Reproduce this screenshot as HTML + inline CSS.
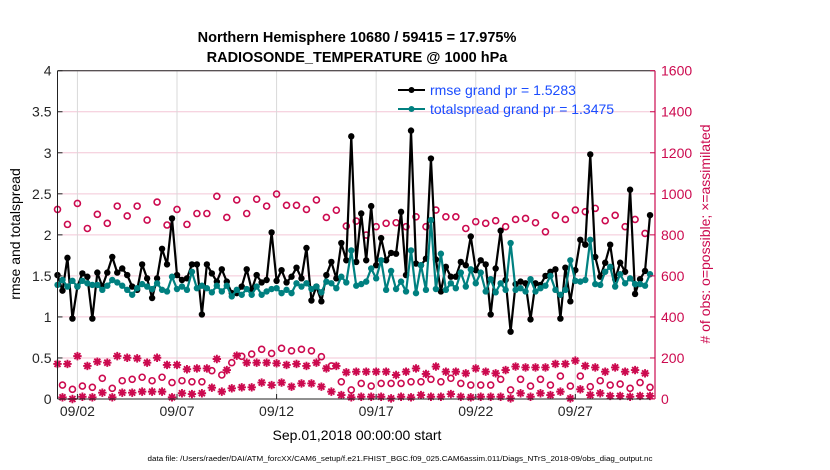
<!DOCTYPE html>
<html><head><meta charset="utf-8"><style>
body{margin:0;background:#fff;}
svg{display:block;font-family:"Liberation Sans",Arial,sans-serif;}
</style></head><body>
<svg id="chart" width="830" height="470" viewBox="0 0 830 470" xmlns="http://www.w3.org/2000/svg">
<rect width="830" height="470" fill="#fff"/>
<text x="357" y="42" text-anchor="middle" font-size="14.5" font-weight="bold">Northern Hemisphere 10680 / 59415 = 17.975%</text>
<text x="357" y="62" text-anchor="middle" font-size="14.5" font-weight="bold">RADIOSONDE_TEMPERATURE @ 1000 hPa</text>
<g id="grid"></g>
<g id="series"></g>
<g id="axes"></g>
<text transform="translate(20,234) rotate(-90)" text-anchor="middle" font-size="14">rmse and totalspread</text>
<text transform="translate(710,234) rotate(-90)" text-anchor="middle" font-size="14" fill="#cc0a4f"># of obs: o=possible; ×=assimilated</text>
<text x="357" y="440" text-anchor="middle" font-size="14">Sep.01,2018 00:00:00 start</text>
<text x="400" y="461" text-anchor="middle" font-size="7" textLength="505" lengthAdjust="spacingAndGlyphs">data file: /Users/raeder/DAI/ATM_forcXX/CAM6_setup/f.e21.FHIST_BGC.f09_025.CAM6assim.011/Diags_NTrS_2018-09/obs_diag_output.nc</text>
<g>
<line x1="398" y1="90" x2="425" y2="90" stroke="#000" stroke-width="2"/><circle cx="411.5" cy="90" r="3" fill="#000"/>
<text x="430" y="95" font-size="14" fill="#1a4cff">rmse grand pr = 1.5283</text>
<line x1="398" y1="109" x2="425" y2="109" stroke="#008080" stroke-width="2"/><circle cx="411.5" cy="109" r="3" fill="#008080"/>
<text x="430" y="114" font-size="14" fill="#1a4cff">totalspread grand pr = 1.3475</text>
</g>
</svg>
<script>
const rmse=[1.51,1.32,1.72,0.98,1.37,1.53,1.49,0.98,1.54,1.37,1.54,1.73,1.54,1.59,1.51,1.37,1.33,1.64,1.47,1.23,1.47,1.83,1.64,2.20,1.51,1.45,1.47,1.64,1.64,1.03,1.64,1.53,1.43,1.58,1.43,1.29,1.29,1.37,1.58,1.33,1.51,1.42,1.45,2.03,1.44,1.57,1.42,1.49,1.60,1.47,1.84,1.20,1.37,1.19,1.51,1.67,1.47,1.90,1.69,3.20,1.67,2.26,1.69,2.35,1.63,1.96,1.69,1.78,1.77,2.28,1.51,3.27,1.65,1.63,1.71,2.93,1.70,1.31,1.61,1.49,1.49,1.67,1.63,1.98,1.57,1.69,1.64,1.03,1.59,2.05,1.45,0.82,1.40,1.43,1.41,0.97,1.41,1.39,1.50,1.55,1.58,0.98,1.60,1.19,1.57,1.94,1.88,2.98,1.73,1.49,1.66,1.88,1.46,1.66,1.55,2.55,1.28,1.46,1.56,2.24];
const spread=[1.39,1.45,1.37,1.44,1.37,1.44,1.41,1.39,1.39,1.33,1.38,1.45,1.42,1.38,1.33,1.27,1.35,1.40,1.37,1.34,1.41,1.33,1.31,1.49,1.34,1.37,1.33,1.55,1.35,1.38,1.35,1.30,1.38,1.31,1.38,1.25,1.33,1.27,1.34,1.27,1.37,1.27,1.31,1.34,1.35,1.29,1.33,1.29,1.41,1.37,1.41,1.34,1.37,1.30,1.43,1.41,1.35,1.49,1.42,1.81,1.38,1.40,1.43,1.59,1.47,1.69,1.33,1.56,1.34,1.43,1.31,1.81,1.29,1.63,1.33,2.18,1.34,1.77,1.33,1.41,1.35,1.54,1.37,1.58,1.41,1.54,1.31,1.46,1.30,1.41,1.33,1.90,1.33,1.35,1.31,1.46,1.31,1.35,1.38,1.50,1.33,1.27,1.33,1.69,1.44,1.43,1.45,1.94,1.40,1.39,1.55,1.61,1.37,1.52,1.41,1.47,1.40,1.40,1.38,1.52];
const possibleHigh=[924,851,953,831,900,856,940,892,940,872,960,848,924,851,904,904,988,885,970,904,974,940,999,944,944,924,970,885,920,843,867,799,840,856,859,840,888,840,921,888,888,831,864,856,869,840,875,880,859,815,895,875,921,913,929,869,895,840,875,807];
const possibleLow=[68,47,63,57,101,52,89,96,106,89,106,80,89,84,84,138,117,177,208,219,242,222,247,235,242,235,206,161,84,44,76,63,76,76,76,84,84,96,84,101,76,68,68,68,96,44,96,63,96,68,112,63,112,60,89,68,73,52,80,57];
const assimHigh=[171,171,209,161,182,177,209,201,198,177,201,166,166,145,149,149,195,141,211,177,177,177,174,166,171,161,177,149,161,130,133,133,133,133,117,133,149,122,158,133,133,125,149,133,125,141,158,154,154,154,171,171,187,161,154,133,154,133,141,125];
const assimLow=[8,0,11,8,31,8,31,31,36,36,36,8,28,24,28,55,36,52,57,57,80,68,80,60,76,76,60,36,19,8,11,11,11,3,11,8,19,11,11,24,11,8,11,11,11,3,28,11,28,19,36,3,47,19,28,15,15,11,15,15];
const leftTicks=[0,0.5,1,1.5,2,2.5,3,3.5,4];
const leftTickLabels=["0","0.5","1","1.5","2","2.5","3","3.5","4"];
const rightTicks=[0,200,400,600,800,1000,1200,1400,1600];
const dateTicks=[1,6,11,16,21,26];
const dateTickLabels=["09/02","09/07","09/12","09/17","09/22","09/27"];

const NS='http://www.w3.org/2000/svg';
const L=57.5,R=655,T=70.7,B=399,DAYS=30;
const xDay=d=>L+d*(R-L)/DAYS;
const xIdx=k=>xDay(k/4);
const yL=v=>B-v*(B-T)/4;
const yR=n=>B-n*(B-T)/1600;
const CR='#cc0a4f';
function mk(tag,attrs,parent){const e=document.createElementNS(NS,tag);for(const k in attrs)e.setAttribute(k,attrs[k]);parent.appendChild(e);return e;}
const grid=document.getElementById('grid'),ser=document.getElementById('series'),ax=document.getElementById('axes');

rightTicks.forEach(n=>{const l=mk('line',{x1:L,x2:R,y1:yR(n),y2:yR(n),stroke:'#f3c6d6','stroke-width':1},grid);

});
dateTicks.forEach(d=>{const l=mk('line',{x1:xDay(d),x2:xDay(d),y1:T,y2:B,stroke:'#d9d9d9','stroke-width':1},grid);

});

function star(x,y,g){const s=4.2,d=3.0;
const p=mk('path',{d:`M${x-s},${y}H${x+s}M${x},${y-s}V${y+s}M${x-d},${y-d}L${x+d},${y+d}M${x-d},${y+d}L${x+d},${y-d}`,stroke:CR,'stroke-width':1.9,fill:'none'},g);

}
function circ(x,y,g){const c=mk('circle',{cx:x,cy:y,r:3.0,fill:'none',stroke:CR,'stroke-width':1.6},g);

}

const gObs=mk('g',{},ser);


possibleHigh.forEach((n,i)=>circ(xIdx(2*i),yR(n),gObs));
possibleLow.forEach((n,i)=>circ(xIdx(2*i+1),yR(n),gObs));
assimHigh.forEach((n,i)=>star(xIdx(2*i),yR(n),gObs));
assimLow.forEach((n,i)=>star(xIdx(2*i+1),yR(n),gObs));

function line(vals,color,name){const g=mk('g',{},ser);


const p=mk('polyline',{points:vals.map((v,k)=>xIdx(k)+','+yL(v)).join(' '),fill:'none',stroke:color,'stroke-width':2.2,'stroke-linejoin':'round'},g);


vals.forEach((v,k)=>{const c=mk('circle',{cx:xIdx(k),cy:yL(v),r:3.2,fill:color},g);

});}
line(rmse,'#000','rmse-series');
line(spread,'#008080','totalspread-series');

mk('line',{x1:L,x2:R,y1:T,y2:T,stroke:'#222','stroke-width':1},ax);
mk('line',{x1:L,x2:R,y1:B,y2:B,stroke:'#222','stroke-width':1},ax);
mk('line',{x1:L,x2:L,y1:T,y2:B,stroke:'#222','stroke-width':1},ax);
mk('line',{x1:R,x2:R,y1:T,y2:B,stroke:CR,'stroke-width':1.2},ax);
leftTicks.forEach((v,i)=>{mk('line',{x1:L,x2:L+5,y1:yL(v),y2:yL(v),stroke:'#222'},ax);
const t=mk('text',{x:L-6,y:yL(v)+5,'text-anchor':'end','font-size':14,fill:'#262626'},ax);t.textContent=leftTickLabels[i];

});
rightTicks.forEach(n=>{mk('line',{x1:R-5,x2:R,y1:yR(n),y2:yR(n),stroke:CR},ax);
const t=mk('text',{x:R+6,y:yR(n)+5,'font-size':14,fill:CR},ax);t.textContent=String(n);

});
dateTicks.forEach((d,i)=>{mk('line',{x1:xDay(d),x2:xDay(d),y1:B,y2:B-5,stroke:'#222'},ax);
const t=mk('text',{x:xDay(d),y:B+17,'text-anchor':'middle','font-size':14,fill:'#262626'},ax);t.textContent=dateTickLabels[i];

});
</script>
</body></html>
